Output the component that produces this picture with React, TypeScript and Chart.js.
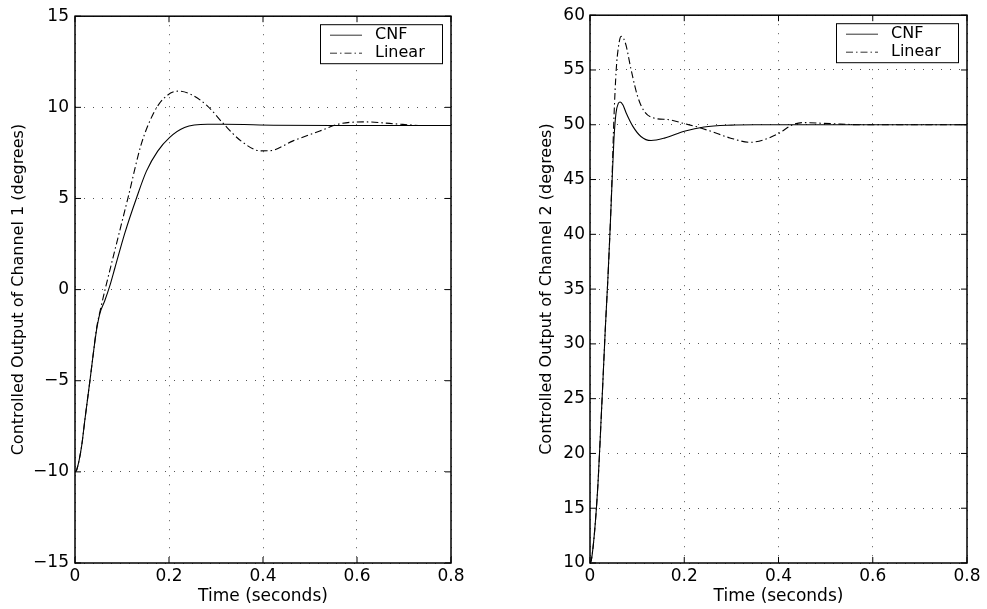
import React, { useEffect, useRef } from "react";
import { Chart, registerables } from "chart.js";
Chart.register(...registerables);

const seriesLabels = ["CNF", "Linear"];
const timeTicks = [0, 0.2, 0.4, 0.6, 0.8];
const ch1Ticks = [-15, -10, -5, 0, 5, 10, 15];
const ch2Ticks = [10, 15, 20, 25, 30, 35, 40, 45, 50, 55, 60];
const ch1Title = "Controlled Output of Channel 1 (degrees)";
const ch2Title = "Controlled Output of Channel 2 (degrees)";
const timeTitle = "Time (seconds)";

const ch1CnfTime = [0, 0.0035, 0.014, 0.021, 0.032, 0.039, 0.046, 0.053, 0.0635, 0.074, 0.085, 0.106, 0.1305, 0.152, 0.176, 0.201, 0.233, 0.282, 0.317, 0.423, 0.55, 0.8];
const ch1CnfValue = [-10, -9.9, -8.6, -7.15, -4.95, -3.5, -2.2, -1.3, -0.6, 0.2, 1.2, 3.1, 5.0, 6.5, 7.6, 8.34, 8.89, 9.07, 9.07, 9.02, 9.0, 9.0];

const ch1LinTime = [0, 0.0035, 0.014, 0.021, 0.032, 0.039, 0.046, 0.055, 0.064, 0.0847, 0.113, 0.141, 0.166, 0.187, 0.219, 0.247, 0.282, 0.317, 0.353, 0.395, 0.415, 0.464, 0.521, 0.564, 0.62, 0.677, 0.749, 0.8];
const ch1LinValue = [-10, -9.9, -8.6, -7.15, -4.95, -3.5, -2.1, -1.0, 0.0, 2.15, 5.06, 7.98, 9.62, 10.44, 10.89, 10.71, 10.07, 9.07, 8.16, 7.61, 7.62, 8.16, 8.7, 9.1, 9.2, 9.1, 9.0, 9.0];

const ch2CnfTime = [0, 0.003, 0.01, 0.017, 0.0226, 0.0275, 0.0324, 0.038, 0.043, 0.047, 0.0507, 0.055, 0.06, 0.064, 0.07, 0.0768, 0.091, 0.108, 0.1295, 0.158, 0.2, 0.242, 0.3, 0.35, 0.8];
const ch2CnfValue = [10, 10.3, 13.0, 17.3, 22.2, 26.7, 31.3, 36.0, 40.8, 45.0, 48.6, 51.0, 51.95, 52.08, 51.8, 51.07, 49.85, 48.93, 48.56, 48.78, 49.4, 49.8, 49.97, 50.0, 50.0];

const ch2LinTime = [0, 0.003, 0.01, 0.017, 0.0226, 0.0275, 0.0324, 0.038, 0.043, 0.047, 0.0507, 0.0556, 0.06, 0.066, 0.071, 0.0768, 0.087, 0.101, 0.1155, 0.1366, 0.168, 0.2, 0.228, 0.27, 0.297, 0.34, 0.367, 0.4, 0.43, 0.452, 0.51, 0.58, 0.8];
const ch2LinValue = [10, 10.3, 13.0, 17.3, 22.2, 26.7, 31.3, 36.0, 40.8, 45.5, 50.5, 55.0, 57.0, 58.07, 57.9, 57.2, 55.06, 52.6, 51.2, 50.6, 50.46, 50.1, 49.8, 49.2, 48.8, 48.4, 48.6, 49.2, 50.0, 50.2, 50.1, 50.0, 50.0];

const FONT = "'DejaVu Sans', sans-serif";

function fmt(v: number): string {
  if (v === 0) return "0";
  if (Number.isInteger(v)) return String(v).replace("-", "\u2212");
  return v.toFixed(1);
}

const framePlugin = {
  id: "matlabFrame",
  afterDatasetsDraw(chart: any) {
    const { ctx, chartArea } = chart;
    const { left, right, top, bottom } = chartArea;
    ctx.save();
    ctx.strokeStyle = "#000";
    ctx.lineWidth = 1.5;
    ctx.setLineDash([]);
    ctx.strokeRect(left, top, right - left, bottom - top);
    ctx.lineWidth = 1;
    const tl = 6;
    const xs = chart.scales.x;
    const ys = chart.scales.y;
    ctx.beginPath();
    xs.ticks.forEach((t: any) => {
      const px = xs.getPixelForValue(t.value);
      ctx.moveTo(px, bottom);
      ctx.lineTo(px, bottom - tl);
      ctx.moveTo(px, top);
      ctx.lineTo(px, top + tl);
    });
    ys.ticks.forEach((t: any) => {
      const py = ys.getPixelForValue(t.value);
      ctx.moveTo(left, py);
      ctx.lineTo(left + tl, py);
      ctx.moveTo(right, py);
      ctx.lineTo(right - tl, py);
    });
    ctx.stroke();
    ctx.restore();
  },
  afterDraw(chart: any) {
    const { ctx, chartArea } = chart;
    const bw = 122;
    const bh = 39;
    const bx = chartArea.right - 9 - bw;
    const by = chartArea.top + 8;
    ctx.save();
    ctx.fillStyle = "#fff";
    ctx.fillRect(bx, by, bw, bh);
    ctx.strokeStyle = "#000";
    ctx.lineWidth = 1;
    ctx.setLineDash([]);
    ctx.strokeRect(bx + 0.5, by + 0.5, bw, bh);
    chart.data.datasets.forEach((ds: any, i: number) => {
      const cy = by + 11 + i * 18;
      ctx.beginPath();
      ctx.strokeStyle = "#333";
      ctx.lineWidth = 1;
      ctx.setLineDash(ds.borderDash || []);
      ctx.moveTo(bx + 10, cy);
      ctx.lineTo(bx + 42, cy);
      ctx.stroke();
      ctx.setLineDash([]);
      ctx.fillStyle = "#000";
      ctx.font = `16px ${FONT}`;
      ctx.textBaseline = "middle";
      ctx.textAlign = "left";
      ctx.fillText(ds.label, bx + 55, cy);
    });
    ctx.restore();
  },
};

interface Panel {
  cnfT: number[];
  cnfY: number[];
  linT: number[];
  linY: number[];
  yTicks: number[];
  yTitle: string;
  yWidth: number;
  yTitlePad: number;
  yTickPad: number;
  padRight: number;
}

function makeConfig(p: Panel): any {
  const font = { family: FONT, size: 17 };
  return {
    type: "line",
    data: {
      datasets: [
        {
          label: seriesLabels[0],
          data: p.cnfT.map((t, i) => ({ x: t, y: p.cnfY[i] })),
          borderColor: "#000",
          borderWidth: 1.1,
          pointRadius: 0,
          fill: false,
          cubicInterpolationMode: "monotone",
        },
        {
          label: seriesLabels[1],
          data: p.linT.map((t, i) => ({ x: t, y: p.linY[i] })),
          borderColor: "#000",
          borderWidth: 1.1,
          borderDash: [7, 3, 1.5, 3],
          pointRadius: 0,
          fill: false,
          cubicInterpolationMode: "monotone",
        },
      ],
    },
    options: {
      animation: false,
      responsive: false,
      maintainAspectRatio: false,
      devicePixelRatio: 1,
      layout: { padding: { top: 15, right: p.padRight, bottom: 0, left: 0 } },
      plugins: { legend: { display: false }, tooltip: { enabled: false } },
      scales: {
        x: {
          type: "linear",
          min: timeTicks[0],
          max: timeTicks[timeTicks.length - 1],
          afterBuildTicks: (s: any) => {
            s.ticks = timeTicks.map((v) => ({ value: v }));
          },
          afterFit: (s: any) => {
            s.height = 46;
          },
          grid: { color: "#555", lineWidth: 1, drawTicks: false },
          border: { display: false, dash: [1, 8] },
          ticks: { padding: 3, font, color: "#000", callback: (v: number) => fmt(v), maxRotation: 0 },
          title: { display: true, text: timeTitle, font, color: "#000", padding: { top: 0, bottom: 2 } },
        },
        y: {
          type: "linear",
          min: p.yTicks[0],
          max: p.yTicks[p.yTicks.length - 1],
          afterBuildTicks: (s: any) => {
            s.ticks = p.yTicks.map((v) => ({ value: v }));
          },
          afterFit: (s: any) => {
            s.width = p.yWidth;
          },
          grid: { color: "#555", lineWidth: 1, drawTicks: false },
          border: { display: false, dash: [1, 8] },
          ticks: { padding: p.yTickPad, font, color: "#000", callback: (v: number) => fmt(v) },
          title: { display: true, text: p.yTitle, font: { family: FONT, size: 16 }, color: "#000", padding: { top: p.yTitlePad, bottom: 0 } },
        },
      },
    },
    plugins: [framePlugin],
  };
}

function ChartPanel({ panel, left, width }: { panel: Panel; left: number; width: number }) {
  const ref = useRef<HTMLCanvasElement | null>(null);
  useEffect(() => {
    if (!ref.current) return;
    const chart = new Chart(ref.current, makeConfig(panel));
    return () => chart.destroy();
  }, [panel]);
  return (
    <canvas
      ref={ref}
      width={width}
      height={609}
      style={{ position: "absolute", left, top: 0, width, height: 609 }}
    />
  );
}

const panel1: Panel = {
  cnfT: ch1CnfTime,
  cnfY: ch1CnfValue,
  linT: ch1LinTime,
  linY: ch1LinValue,
  yTicks: ch1Ticks,
  yTitle: ch1Title,
  yWidth: 75,
  yTitlePad: 9,
  yTickPad: 6,
  padRight: 42,
};

const panel2: Panel = {
  cnfT: ch2CnfTime,
  cnfY: ch2CnfValue,
  linT: ch2LinTime,
  linY: ch2LinValue,
  yTicks: ch2Ticks,
  yTitle: ch2Title,
  yWidth: 97,
  yTitlePad: 44,
  yTickPad: 5,
  padRight: 20,
};

export default function App() {
  return (
    <div style={{ position: "fixed", left: 0, top: 0, width: 987, height: 609, background: "#fff", overflow: "hidden" }}>
      <ChartPanel panel={panel1} left={0} width={493} />
      <ChartPanel panel={panel2} left={493} width={494} />
    </div>
  );
}
